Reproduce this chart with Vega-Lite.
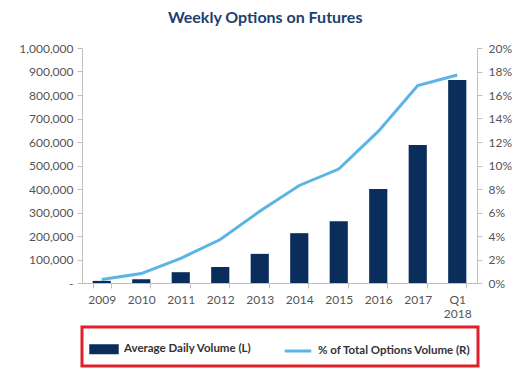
{
  "$schema": "https://vega.github.io/schema/vega-lite/v6.json",
  "width": 395,
  "height": 235,
  "padding": {"left": 18, "top": 10, "right": 5, "bottom": 5},
  "background": "white",
  "title": {
    "text": "Weekly Options on Futures",
    "anchor": "middle",
    "frame": "bounds",
    "font": "Lato",
    "fontSize": 16,
    "fontWeight": "bold",
    "color": "#1d3f6e",
    "offset": 16
  },
  "config": {
    "view": {"stroke": null},
    "font": "Lato",
    "axis": {
      "labelFont": "Lato",
      "labelFontSize": 12,
      "labelColor": "#555555",
      "domainColor": "#bfbfbf",
      "tickColor": "#bfbfbf",
      "grid": false,
      "title": null
    },
    "legend": {
      "strokeColor": "#e0202a",
      "strokeWidth": 3
    }
  },
  "data": {
    "values": [
      {"period": "2009", "adv": 9000, "pct": 0.003},
      {"period": "2010", "adv": 16000, "pct": 0.008},
      {"period": "2011", "adv": 46000, "pct": 0.021},
      {"period": "2012", "adv": 68000, "pct": 0.037},
      {"period": "2013", "adv": 124000, "pct": 0.061},
      {"period": "2014", "adv": 212000, "pct": 0.083},
      {"period": "2015", "adv": 263000, "pct": 0.097},
      {"period": "2016", "adv": 400000, "pct": 0.129},
      {"period": "2017", "adv": 587000, "pct": 0.168},
      {"period": "Q1 2018", "adv": 864000, "pct": 0.177}
    ]
  },
  "encoding": {
    "x": {
      "field": "period",
      "type": "nominal",
      "sort": null,
      "scale": {"paddingInner": 0.54, "paddingOuter": 0.27},
      "axis": {
        "labelAngle": 0,
        "tickBand": "extent",
        "labelExpr": "isString(datum.value) ? split(datum.value, ' ') : ''",
        "labelPadding": 6
      }
    }
  },
  "layer": [
    {
      "mark": {"type": "bar", "color": "#0b2d5b"},
      "encoding": {
        "y": {
          "field": "adv",
          "type": "quantitative",
          "scale": {"domain": [0, 1000000]},
          "axis": {
            "values": [0, 100000, 200000, 300000, 400000, 500000, 600000, 700000, 800000, 900000, 1000000],
            "labelExpr": "datum.value == 0 ? '-' : format(datum.value, ',')",
            "labelPadding": 4
          }
        },
        "color": {
          "datum": "Average Daily Volume (L)",
          "scale": {
            "domain": ["Average Daily Volume (L)", "% of Total Options Volume (R)"],
            "range": ["#0b2d5b", "#5ab4e5"]
          },
          "legend": {
            "orient": "bottom",
            "direction": "horizontal",
            "title": null,
            "padding": 7,
            "offset": 8,
            "labelFont": "Lato",
            "labelFontSize": 11.5,
            "labelFontWeight": "bold",
            "labelColor": "#333333",
            "labelOffset": 5,
            "columnPadding": 26,
            "symbolSize": 700,
            "symbolStrokeWidth": 3,
            "symbolOpacity": 1,
            "labelLimit": 300,
            "encode": {
              "symbols": {
                "update": {
                  "shape": {"signal": "datum.value === 'Average Daily Volume (L)' ? 'M-1,-0.27H1V0.27H-1Z' : 'stroke'"},
                  "fill": {"signal": "datum.value === 'Average Daily Volume (L)' ? '#0b2d5b' : 'transparent'"},
                  "stroke": {"signal": "datum.value === 'Average Daily Volume (L)' ? 'transparent' : '#5ab4e5'"}
                }
              }
            }
          }
        }
      }
    },
    {
      "mark": {"type": "line", "strokeWidth": 3, "color": "#5ab4e5"},
      "encoding": {
        "y": {
          "field": "pct",
          "type": "quantitative",
          "scale": {"domain": [0, 0.2]},
          "axis": {
            "orient": "right",
            "format": ".0%",
            "values": [0, 0.02, 0.04, 0.06, 0.08, 0.1, 0.12, 0.14, 0.16, 0.18, 0.2],
            "labelPadding": 6
          }
        },
        "color": {"datum": "% of Total Options Volume (R)"}
      }
    }
  ],
  "resolve": {"scale": {"y": "independent"}}
}
